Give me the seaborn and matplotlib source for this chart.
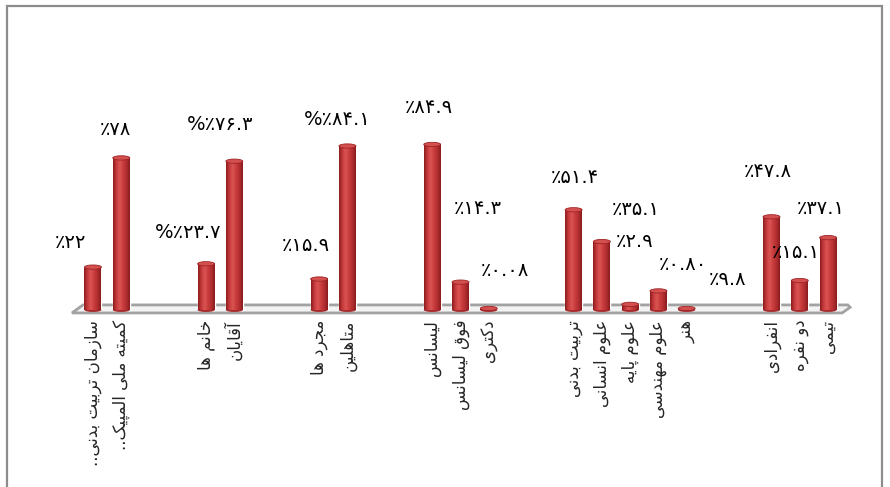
import numpy as np
import pandas as pd
import matplotlib
matplotlib.use("Agg")
import matplotlib.pyplot as plt
import seaborn as sns
from matplotlib.patches import Ellipse, Rectangle, Polygon
from matplotlib.colors import LinearSegmentedColormap

# ---------------- data ----------------
categories = ["سازمان تربیت بدنی..", "کمیته ملی المپیک..",
              "خانم ها", "آقایان",
              "مجرد ها", "متاهلین",
              "لیسانس", "فوق لیسانس", "دکتری",
              "تربیت بدنی", "علوم انسانی", "علوم پایه", "علوم مهندسی", "هنر",
              "انفرادی", "دو نفره", "تیمی"]
groups = [0, 0, 1, 1, 2, 2, 3, 3, 3, 4, 4, 4, 4, 4, 5, 5, 5]
values = [22, 78, 23.7, 76.3, 15.9, 84.1, 84.9, 14.3, 0.8, 51.4, 35.1, 2.9, 9.8, 0.8, 47.8, 15.1, 37.1]
value_labels = ["٪۲۲", "٪۷۸", "%٪۲۳.۷", "%٪۷۶.۳", "٪۱۵.۹", "%٪۸۴.۱",
                "٪۸۴.۹", "٪۱۴.۳", "٪۰.۰۸", "٪۵۱.۴", "٪۳۵.۱", "٪۲.۹",
                "٪۰.۸۰", "٪۹.۸", "٪۴۷.۸", "٪۱۵.۱", "٪۳۷.۱"]
# label offsets from bar top (x in slots, y in value units) -- layout only
label_dx = [-0.81, -0.19, -0.64, -0.51, -0.47, -0.37, -0.11, 0.62, 0.57,
            0.05, 1.2, 0.17, 0.87, 1.43, -0.12, -0.13, -0.25]
label_dy = [12.4, 14.8, 16.3, 18.6, 17.4, 13.8, 19.2, 38.0, 19.7,
            16.8, 16.2, 32.0, 13.3, 14.6, 23.0, 14.6, 15.2]

# ---------------- minimal Arabic/Persian shaping for display ----------------
FORMS = {
    'ا': ('\uFE8D', '\uFE8E', None, None),
    'آ': ('\uFE81', '\uFE82', None, None),
    'ب': ('\uFE8F', '\uFE90', '\uFE91', '\uFE92'),
    'پ': ('\uFB56', '\uFB57', '\uFB58', '\uFB59'),
    'ت': ('\uFE95', '\uFE96', '\uFE97', '\uFE98'),
    'ج': ('\uFE9D', '\uFE9E', '\uFE9F', '\uFEA0'),
    'خ': ('\uFEA5', '\uFEA6', '\uFEA7', '\uFEA8'),
    'د': ('\uFEA9', '\uFEAA', None, None),
    'ر': ('\uFEAD', '\uFEAE', None, None),
    'ز': ('\uFEAF', '\uFEB0', None, None),
    'س': ('\uFEB1', '\uFEB2', '\uFEB3', '\uFEB4'),
    'ع': ('\uFEC9', '\uFECA', '\uFECB', '\uFECC'),
    'ف': ('\uFED1', '\uFED2', '\uFED3', '\uFED4'),
    'ق': ('\uFED5', '\uFED6', '\uFED7', '\uFED8'),
    'ک': ('\uFB8E', '\uFB8F', '\uFB90', '\uFB91'),
    'ل': ('\uFEDD', '\uFEDE', '\uFEDF', '\uFEE0'),
    'م': ('\uFEE1', '\uFEE2', '\uFEE3', '\uFEE4'),
    'ن': ('\uFEE5', '\uFEE6', '\uFEE7', '\uFEE8'),
    'ه': ('\uFEE9', '\uFEEA', '\uFEEB', '\uFEEC'),
    'و': ('\uFEED', '\uFEEE', None, None),
    'ی': ('\uFBFC', '\uFBFD', '\uFBFE', '\uFBFF'),
}


def shape(text):
    chars = list(text)
    out = []
    for i, c in enumerate(chars):
        if c not in FORMS:
            out.append(c)
            continue
        iso, fin, ini, med = FORMS[c]
        prev = chars[i - 1] if i > 0 else None
        nxt = chars[i + 1] if i + 1 < len(chars) else None
        jp = prev in FORMS and FORMS[prev][2] is not None
        jn = nxt in FORMS and ini is not None
        if jp and jn:
            out.append(med)
        elif jp:
            out.append(fin)
        elif jn:
            out.append(ini)
        else:
            out.append(iso)
    return ''.join(reversed(out))


# ---------------- build slot order (2 empty slots between groups) ----------------
order = []
slot_of = []
prev_g = None
gap_n = 0
for cat, g in zip(categories, groups):
    if prev_g is not None and g != prev_g:
        for _ in range(2):
            order.append(f"_gap{gap_n}")
            gap_n += 1
    slot_of.append(len(order))
    order.append(cat)
    prev_g = g

df = pd.DataFrame({"category": categories, "value": values})

# ---------------- figure ----------------
sns.set_style("white")
plt.rcParams['font.family'] = ['DejaVu Sans']

fig = plt.figure(figsize=(8.9, 4.87), dpi=100)
ax = fig.add_axes([0.0674, 0.3434, 0.8989, 0.4605])

base_color = "#C0383A"
sns.barplot(data=df, x="category", y="value", order=order, color=base_color,
            width=0.6, ax=ax, saturation=1, zorder=3)

XLIM = (-1.167, 27.13)
YLIM = (-5, 110)

# floor platform
floor = Polygon([(-0.743, -1.5), (-0.354, 2.6), (26.7, 2.6), (26.78, 1.4), (26.5, -1.5)],
                closed=True, facecolor="#F3F3F3", edgecolor="#A2A2A2", lw=2.0, zorder=1)
ax.add_patch(floor)

# cylinder shading
cmap = LinearSegmentedColormap.from_list(
    "cyl", ["#8C1C1E", "#C63A3C", "#DA5553", "#C93C3E", "#B12E30", "#8A1B1D"])
grad = np.linspace(0, 1, 64).reshape(1, -1)
bars = [p for p in ax.patches if isinstance(p, Rectangle) and p.get_height() > 0]
for p in bars:
    x0, y0, w, h = p.get_x(), p.get_y(), p.get_width(), p.get_height()
    ax.imshow(grad, extent=[x0, x0 + w, y0, y0 + h], aspect='auto', cmap=cmap,
              zorder=4, interpolation='bilinear')
    ax.add_patch(Ellipse((x0 + w / 2, y0), w, 2.0, facecolor="#A82A2C",
                         edgecolor="none", zorder=3.5))
    ax.add_patch(Ellipse((x0 + w / 2, y0 + h), w, 2.2, facecolor="#D4504F",
                         edgecolor="#9E2426", lw=0.6, zorder=5))

ax.set_xlim(*XLIM)
ax.set_ylim(*YLIM)

# value labels
for s, v, lab, dx, dy in zip(slot_of, values, value_labels, label_dx, label_dy):
    ax.text(s + dx, v + dy, lab, ha='center', va='center', fontsize=14,
            color='black', zorder=6, clip_on=False)

# category labels
ax.set_xticks(slot_of)
ax.set_xticklabels([shape(c) for c in categories], rotation=90, fontsize=12,
                   va='top', ha='center')
ax.tick_params(axis='x', length=0, pad=0)
ax.set_yticks([])
ax.set_xlabel("")
ax.set_ylabel("")
for sp in ax.spines.values():
    sp.set_visible(False)
ax.patch.set_alpha(0)

# outer chart border (top, left, right)
fig.patches.append(Rectangle((6.5 / 890, -0.02), 875.5 / 890, (487 - 5.5) / 487 + 0.02,
                             transform=fig.transFigure, fill=False,
                             edgecolor="#8C8C8C", lw=1.6))

fig.savefig("out.png", dpi=100)
